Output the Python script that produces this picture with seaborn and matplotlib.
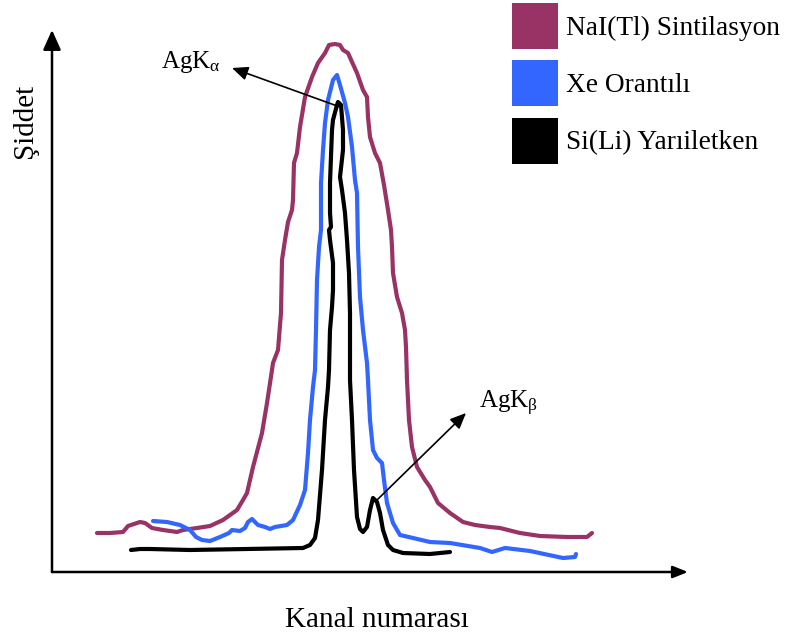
import matplotlib
matplotlib.use("Agg")
import matplotlib.pyplot as plt
from matplotlib.patches import Rectangle
import seaborn as sns
import pandas as pd

sns.set_theme(style="white")
plt.rcParams["font.family"] = ["Liberation Serif", "DejaVu Serif"]
plt.rcParams["text.color"] = "black"
plt.rcParams["mathtext.fontset"] = "custom"
plt.rcParams["mathtext.rm"] = "Liberation Serif"
plt.rcParams["mathtext.it"] = "Liberation Serif"

# Detector spectra of the Ag K lines (channel, intensity)
nai_kanal = [45, 58, 71, 76, 88, 93, 100, 111, 125, 131, 145, 158, 171, 185, 191, 195, 201, 210, 215,
             220, 221, 226, 229, 230, 233, 236, 240, 241, 242, 245, 248, 253, 260, 266, 273, 277, 283,
             288, 291, 296, 300, 305, 311, 315, 316, 318, 323, 328, 332, 336, 339, 340, 341, 345, 350,
             353, 354, 355, 357, 360, 365, 373, 378, 386, 398, 411, 423, 438, 448, 468, 488, 515, 535, 540]
nai_siddet = [39, 39, 40, 46, 50, 49, 44, 42, 40, 42, 44, 46, 52, 62, 72, 79, 105, 139, 169,
              202, 209, 222, 259, 312, 332, 350, 362, 372, 409, 419, 445, 475, 495, 509, 519, 527, 528,
              527, 522, 519, 510, 499, 482, 475, 455, 435, 419, 409, 387, 362, 342, 325, 299, 275, 259,
              242, 225, 192, 152, 125, 105, 92, 85, 69, 59, 50, 47, 45, 44, 39, 36, 35, 35, 39]

xe_kanal = [101, 115, 128, 138, 144, 150, 158, 168, 177, 180, 188, 193, 196, 200, 203, 206, 213, 218,
            223, 235, 241, 248, 253, 256, 258, 261, 263, 264, 265, 267, 269, 269, 271, 273, 276, 281,
            285, 288, 293, 296, 300, 303, 305, 306, 308, 311, 315, 316, 318, 321, 325, 330, 332, 335,
            341, 348, 361, 378, 398, 428, 440, 453, 478, 511, 523, 524]
xe_siddet = [51, 50, 47, 42, 35, 32, 31, 35, 39, 42, 41, 44, 50, 53, 50, 47, 45, 43,
             45, 47, 52, 67, 82, 119, 152, 185, 202, 242, 292, 325, 342, 389, 422, 449, 472, 492,
             497, 487, 469, 455, 425, 392, 379, 325, 275, 242, 209, 192, 152, 122, 114, 109, 92, 69,
             49, 37, 34, 30, 29, 24, 20, 24, 21, 14, 15, 18]

si_kanal = [79, 88, 98, 138, 251, 258, 263, 266, 270, 273, 276, 277, 278, 280, 281, 281, 278, 277,
            279, 278, 278, 280, 281, 285, 286, 289, 291, 291, 288, 290, 293, 295, 297, 298, 298, 300,
            302, 305, 308, 311, 315, 318, 321, 325, 328, 331, 336, 341, 351, 378, 398]
si_siddet = [22, 23, 23, 22, 24, 27, 34, 52, 102, 152, 185, 202, 242, 265, 282, 309, 332, 342,
             345, 359, 389, 442, 452, 467, 470, 467, 442, 422, 395, 382, 359, 332, 299, 259, 192, 152,
             102, 55, 43, 40, 45, 62, 74, 70, 59, 42, 27, 22, 19, 18, 20]

seriler = ["NaI(Tl) Sintilasyon", "Xe Orantılı", "Si(Li) Yarıiletken"]
renkler = ["#993366", "#3366ff", "#000000"]

fig = plt.figure(figsize=(7.87, 6.41), dpi=100)
ax = fig.add_axes([0, 0, 1, 1])
ax.set_xlim(-52, 735)
ax.set_ylim(-69, 572)
ax.axis("off")

for kanal, siddet, renk in [(nai_kanal, nai_siddet, renkler[0]),
                             (xe_kanal, xe_siddet, renkler[1]),
                             (si_kanal, si_siddet, renkler[2])]:
    df = pd.DataFrame({"kanal": kanal, "siddet": siddet})
    sns.lineplot(data=df, x="kanal", y="siddet", sort=False, estimator=None,
                 color=renk, lw=3.0, ax=ax, solid_capstyle="round", solid_joinstyle="round")

# Axes drawn as arrows
ax.annotate("", xy=(0, 542), xytext=(0, 0),
            arrowprops=dict(arrowstyle="-|>,head_length=1.0,head_width=0.45", color="black", lw=1.8,
                            shrinkA=0, shrinkB=0))
ax.annotate("", xy=(636, 0), xytext=(0, 0),
            arrowprops=dict(arrowstyle="-|>,head_length=0.75,head_width=0.3", color="black", lw=1.8,
                            shrinkA=0, shrinkB=0))

ax.text(325, -48, "Kanal numarası", ha="center", va="center", fontsize=21, color="black")
ax.text(-27, 451, "Şiddet", ha="center", va="center", rotation=90, fontsize=21, color="black")

# Peak labels
ax.annotate("", xy=(180, 504), xytext=(288, 465),
            arrowprops=dict(arrowstyle="-|>,head_length=0.8,head_width=0.35", color="black", lw=1.2,
                            shrinkA=0, shrinkB=0))
ax.text(109, 510, r"AgK$_{\mathrm{α}}$", ha="left", va="center", fontsize=18, color="black")
ax.annotate("", xy=(414, 159), xytext=(325, 72),
            arrowprops=dict(arrowstyle="-|>,head_length=0.8,head_width=0.35", color="black", lw=1.2,
                            shrinkA=0, shrinkB=0))
ax.text(427, 169, r"AgK$_{\mathrm{β}}$", ha="left", va="center", fontsize=18, color="black")

# Legend of colour squares
kare_y = [523, 466, 408]
for ad, renk, ky in zip(seriler, renkler, kare_y):
    ax.add_patch(Rectangle((460, ky), 46, 46, facecolor=renk, edgecolor="none"))
    ax.text(514, ky + 21, ad, ha="left", va="center", fontsize=19.7, color="black")

fig.savefig("out.png", dpi=100)
